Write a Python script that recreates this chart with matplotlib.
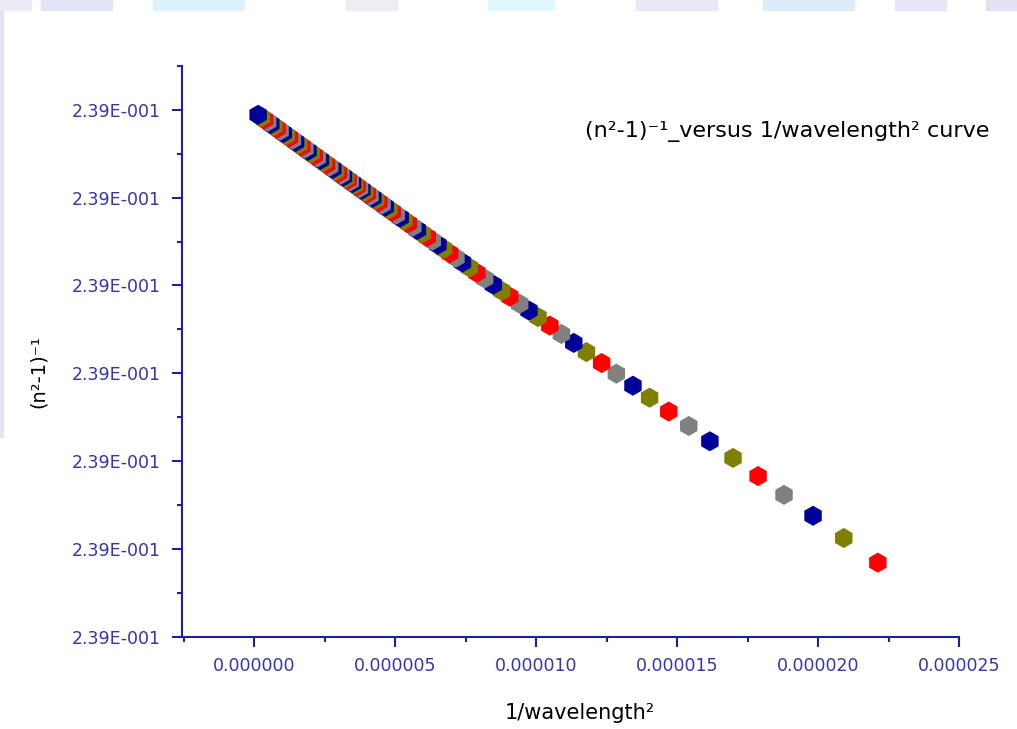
import numpy as np
import matplotlib
matplotlib.use("Agg")
import matplotlib.pyplot as plt
from matplotlib.ticker import FixedLocator, FuncFormatter
from matplotlib.patches import Rectangle

plt.rcParams["font.family"] = ["DejaVu Sans"]

# 1/wavelength^2 (in units of 1e-6), left to right
inv_wl2_e6 = [
    0.13, 0.25, 0.36, 0.47, 0.58, 0.69, 0.80, 0.91, 1.02, 1.13,
    1.24, 1.35, 1.46, 1.57, 1.68, 1.79, 1.90, 2.01, 2.12, 2.23,
    2.34, 2.45, 2.56, 2.67, 2.78, 2.88, 2.98, 3.07, 3.16, 3.24,
    3.32, 3.40, 3.48, 3.56, 3.64, 3.73, 3.81, 3.91, 4.00, 4.10,
    4.20, 4.30, 4.41, 4.53, 4.64, 4.77, 4.89, 5.03, 5.17, 5.31,
    5.46, 5.62, 5.78, 5.95, 6.13, 6.31, 6.51, 6.71, 6.93, 7.15,
    7.38, 7.63, 7.89, 8.17, 8.47, 8.77, 9.06, 9.41, 9.74, 10.06,
    10.48, 10.89, 11.33, 11.78, 12.32, 12.84, 13.43, 14.02, 14.70, 15.41,
    16.16, 16.98, 17.87, 18.79, 19.82, 20.91, 22.12,
]

# (n^2-1)^-1
inv_n2m1 = [
    0.239011886, 0.239011830, 0.239011779, 0.239011728, 0.239011677,
    0.239011626, 0.239011575, 0.239011524, 0.239011473, 0.239011422,
    0.239011371, 0.239011320, 0.239011269, 0.239011218, 0.239011167,
    0.239011116, 0.239011065, 0.239011014, 0.239010963, 0.239010912,
    0.239010861, 0.239010810, 0.239010759, 0.239010708, 0.239010657,
    0.239010610, 0.239010564, 0.239010522, 0.239010480, 0.239010443,
    0.239010406, 0.239010369, 0.239010332, 0.239010295, 0.239010258,
    0.239010216, 0.239010179, 0.239010133, 0.239010091, 0.239010044,
    0.239009998, 0.239009952, 0.239009901, 0.239009845, 0.239009794,
    0.239009734, 0.239009678, 0.239009613, 0.239009548, 0.239009483,
    0.239009414, 0.239009339, 0.239009265, 0.239009186, 0.239009103,
    0.239009019, 0.239008927, 0.239008834, 0.239008732, 0.239008630,
    0.239008523, 0.239008407, 0.239008287, 0.239008157, 0.239008018,
    0.239007878, 0.239007744, 0.239007582, 0.239007429, 0.239007280,
    0.239007085, 0.239006895, 0.239006691, 0.239006482, 0.239006232,
    0.239005991, 0.239005717, 0.239005444, 0.239005128, 0.239004799,
    0.239004451, 0.239004071, 0.239003658, 0.239003231, 0.239002754,
    0.239002248, 0.239001687,
]

point_colors = ["#000099", "#808000", "#ff0000", "#808080"]

x_ticks = [0.0, 0.000005, 0.00001, 0.000015, 0.00002, 0.000025]
y_ticks = [0.239000, 0.239002, 0.239004, 0.239006, 0.239008, 0.239010, 0.239012]

x = np.array(inv_wl2_e6) * 1e-6
y = np.array(inv_n2m1)
cols = [point_colors[i % 4] for i in range(len(x))]

axis_col = "#1f1f9f"
tick_col = "#3535a8"

fig = plt.figure(figsize=(10.17, 7.29), dpi=100)

# faint watermark from the page behind the chart
for x0, w, c in [(0.0, 0.03, "#ececf6"), (0.04, 0.07, "#e4e4f8"), (0.15, 0.09, "#dcf2fc"),
                 (0.34, 0.05, "#eeeef2"), (0.48, 0.065, "#e0f8fc"), (0.625, 0.08, "#eae8f6"),
                 (0.75, 0.09, "#dcecfb"), (0.88, 0.05, "#e6e6f7"), (0.97, 0.03, "#e2e2f4")]:
    fig.patches.append(Rectangle((x0, 0.986), w, 0.014, transform=fig.transFigure,
                                 color=c, zorder=0))
fig.patches.append(Rectangle((0, 0.40), 0.003, 0.586, transform=fig.transFigure,
                             color="#e4e4f2", zorder=0))

ax = fig.add_axes([0.179, 0.1266, 0.764, 0.783])
ax.scatter(x[::-1], y[::-1], s=210, marker="h", c=cols[::-1], linewidths=0, zorder=3)

ax.set_xlim(-2.57e-6, 2.5e-5)
ax.set_ylim(0.239000, 0.2390130)

for s in ["top", "right"]:
    ax.spines[s].set_visible(False)
for s in ["left", "bottom"]:
    ax.spines[s].set_color(axis_col)
    ax.spines[s].set_linewidth(1.5)

ax.xaxis.set_major_locator(FixedLocator(x_ticks))
ax.xaxis.set_minor_locator(FixedLocator([-0.0000025, 0.0000025, 0.0000075, 0.0000125,
                                         0.0000175, 0.0000225]))
ax.yaxis.set_major_locator(FixedLocator(y_ticks))
ax.yaxis.set_minor_locator(FixedLocator([v + 0.000001 for v in y_ticks]))

ax.xaxis.set_major_formatter(FuncFormatter(lambda v, p: f"{v:.6f}"))


def sci3(v, p):
    m, e = f"{v:.2E}".split("E")
    return f"{m}E{e[0]}{int(e[1:]):03d}"


ax.yaxis.set_major_formatter(FuncFormatter(sci3))

ax.tick_params(which="major", direction="out", length=7.5, width=1.5,
               color=axis_col, labelcolor=tick_col, labelsize=12.5)
ax.tick_params(which="minor", direction="out", length=3.5, width=1.5, color=axis_col)
ax.tick_params(axis="x", which="major", pad=7)
ax.tick_params(axis="y", which="major", pad=8)

ax.set_xlabel("1/wavelength²", fontsize=15, va="center")
ax.xaxis.set_label_coords(0.512, -0.134)
ax.set_ylabel("(n²-1)⁻¹", fontsize=14, va="center")
ax.yaxis.set_label_coords(-0.185, 0.464)

fig.text(585 / 1017, 1 - 132 / 729,
         "(n²-1)⁻¹_versus 1/wavelength² curve",
         fontsize=16, ha="left", va="center")

fig.savefig("out.png", dpi=100)
